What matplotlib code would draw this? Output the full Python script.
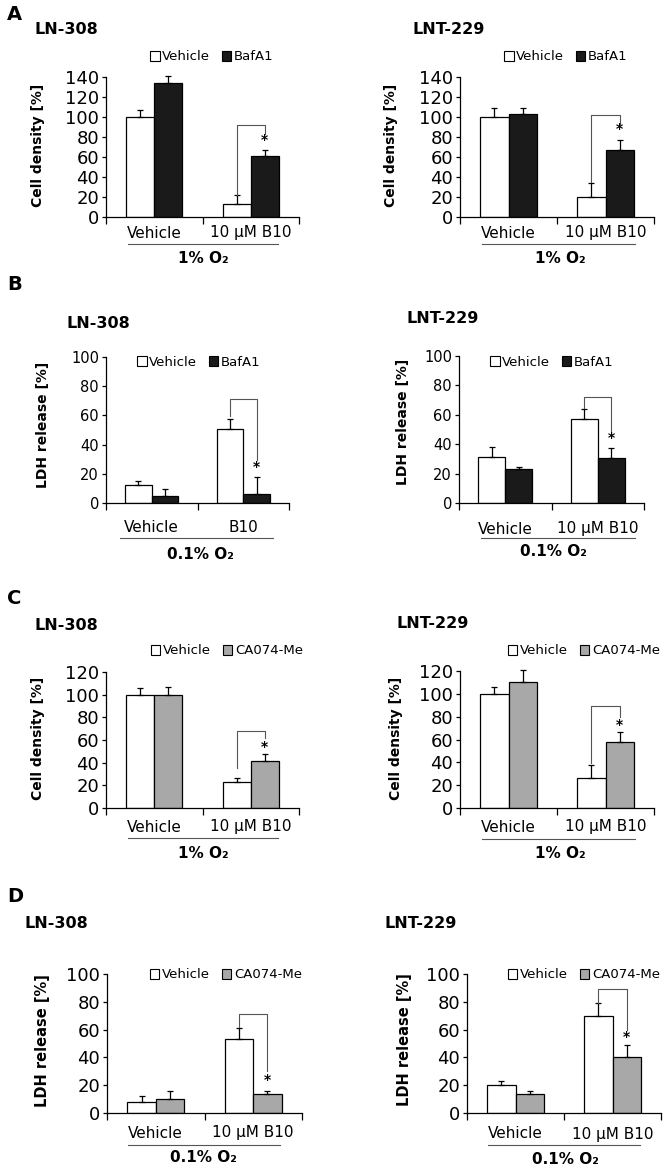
import matplotlib
matplotlib.use("Agg")
import matplotlib.pyplot as plt
from matplotlib.patches import Patch
from matplotlib.lines import Line2D
import numpy as np

plt.rcParams['font.family'] = ['DejaVu Sans']

W, H = 666, 1171

# ---------------- data ----------------
groups_full = ["Vehicle", "10 µM B10"]
groups_short = ["Vehicle", "B10"]

# A: cell density, 1% O2, Vehicle vs BafA1
A308_vehicle = [100, 12.7]
A308_vehicle_err = [7, 9]
A308_baf = [134, 60.7]
A308_baf_err = [7.5, 6]
A229_vehicle = [100, 20]
A229_vehicle_err = [9, 14]
A229_baf = [103, 66.7]
A229_baf_err = [6, 10]

# B: LDH release, 0.1% O2, Vehicle vs BafA1
B308_vehicle = [12, 50.5]
B308_vehicle_err = [2.8, 6.8]
B308_baf = [4.5, 6]
B308_baf_err = [5, 11.7]
B229_vehicle = [31.6, 56.9]
B229_vehicle_err = [6.8, 6.8]
B229_baf = [23, 30.7]
B229_baf_err = [1.8, 6.5]

# C: cell density, 1% O2, Vehicle vs CA074-Me
C308_vehicle = [100, 22.6]
C308_vehicle_err = [6, 4]
C308_ca = [100, 41.8]
C308_ca_err = [6.8, 5.8]
C229_vehicle = [99.8, 26.3]
C229_vehicle_err = [6.4, 11.2]
C229_ca = [110.6, 58]
C229_ca_err = [10.3, 8.7]

# D: LDH release, 0.1% O2, Vehicle vs CA074-Me
D308_vehicle = [7.9, 53.3]
D308_vehicle_err = [4.1, 8.2]
D308_ca = [9.8, 13.9]
D308_ca_err = [5.8, 2.1]
D229_vehicle = [19.9, 69.5]
D229_vehicle_err = [2.9, 9.5]
D229_ca = [13.7, 40]
D229_ca_err = [2.1, 8.7]

# significance brackets: (left leg bottom, top, right leg bottom, star y)
brackets = {
    "A308": (22, 92, 83, 77),
    "A229": (35, 101.7, 93, 88),
    "B308": (59.5, 71.1, 29.5, 25),
    "B229": (64.3, 71.8, 48.5, 44),
    "C308": (35.3, 67.6, 61.8, 54),
    "C229": (39, 89, 80, 73),
    "D308": (62.2, 71.3, 29.9, 24),
    "D229": (79, 89, 60, 55),
}

BLACK = '#1a1a1a'
GRAY = '#a8a8a8'

panels = [
    dict(key="A308", box=(106, 299, 77, 217), ymax=140, ystep=20, title=("LN-308", 35, 30),
         v=A308_vehicle, ve=A308_vehicle_err, t=A308_baf, te=A308_baf_err, tname="BafA1", tcol=BLACK,
         leg=(212, 57), ylab=("Cell density [%]", 38, 145), groups=groups_full, gy=233,
         uline=(128, 278, 244), cond=("1% O₂", 203, 258), tfs=13, ylfs=10),
    dict(key="A229", box=(460, 654, 77, 217), ymax=140, ystep=20, title=("LNT-229", 412, 30),
         v=A229_vehicle, ve=A229_vehicle_err, t=A229_baf, te=A229_baf_err, tname="BafA1", tcol=BLACK,
         leg=(566, 57), ylab=("Cell density [%]", 391, 145), groups=groups_full, gy=233,
         uline=(482, 635, 244), cond=("1% O₂", 560, 258), tfs=13, ylfs=10),
    dict(key="B308", box=(106, 289, 357, 503), ymax=100, ystep=20, title=("LN-308", 67, 323),
         v=B308_vehicle, ve=B308_vehicle_err, t=B308_baf, te=B308_baf_err, tname="BafA1", tcol=BLACK,
         leg=(199, 362), ylab=("LDH release [%]", 43, 425), groups=groups_short, gy=528,
         uline=(120, 273, 538), cond=("0.1% O₂", 200, 555), tfs=10.5, ylfs=10),
    dict(key="B229", box=(459, 644, 356, 503), ymax=100, ystep=20, title=("LNT-229", 406, 319),
         v=B229_vehicle, ve=B229_vehicle_err, t=B229_baf, te=B229_baf_err, tname="BafA1", tcol=BLACK,
         leg=(552, 362), ylab=("LDH release [%]", 403, 422), groups=groups_full, gy=529,
         uline=(481, 635, 538), cond=("0.1% O₂", 553, 552), tfs=10.5, ylfs=10),
    dict(key="C308", box=(106, 299, 672, 808), ymax=120, ystep=20, title=("LN-308", 35, 625),
         v=C308_vehicle, ve=C308_vehicle_err, t=C308_ca, te=C308_ca_err, tname="CA074-Me", tcol=GRAY,
         leg=(227, 651), ylab=("Cell density [%]", 38, 738), groups=groups_full, gy=827,
         uline=(128, 278, 838), cond=("1% O₂", 203, 853), tfs=13, ylfs=10),
    dict(key="C229", box=(460, 654, 671, 808), ymax=120, ystep=20, title=("LNT-229", 396, 624),
         v=C229_vehicle, ve=C229_vehicle_err, t=C229_ca, te=C229_ca_err, tname="CA074-Me", tcol=GRAY,
         leg=(584, 651), ylab=("Cell density [%]", 396, 738), groups=groups_full, gy=827,
         uline=(482, 635, 839), cond=("1% O₂", 560, 854), tfs=13, ylfs=10),
    dict(key="D308", box=(107, 302, 974, 1113), ymax=100, ystep=20, title=("LN-308", 25, 923),
         v=D308_vehicle, ve=D308_vehicle_err, t=D308_ca, te=D308_ca_err, tname="CA074-Me", tcol=GRAY,
         leg=(226, 975), ylab=("LDH release [%]", 43, 1041), groups=groups_full, gy=1133,
         uline=(128, 280, 1145), cond=("0.1% O₂", 203, 1158), tfs=13, ylfs=10.5),
    dict(key="D229", box=(467, 661, 974, 1113), ymax=100, ystep=20, title=("LNT-229", 385, 923),
         v=D229_vehicle, ve=D229_vehicle_err, t=D229_ca, te=D229_ca_err, tname="CA074-Me", tcol=GRAY,
         leg=(584, 975), ylab=("LDH release [%]", 405, 1040), groups=groups_full, gy=1134,
         uline=(488, 640, 1145), cond=("0.1% O₂", 565, 1159), tfs=13, ylfs=10.5),
]

panel_letters = [("A", 7, 15), ("B", 7, 285), ("C", 7, 599), ("D", 7, 897)]

fig = plt.figure(figsize=(W / 100, H / 100), dpi=100)


def fx(px):
    return px / W


def fy(py):
    return 1 - py / H


bw = 0.29
for p in panels:
    l, r, t, b = p["box"]
    ax = fig.add_axes([fx(l), fy(b), (r - l) / W, (b - t) / H])
    x = np.arange(len(p["groups"]))
    zeros = np.zeros(len(x))
    ekw = dict(elinewidth=0.9, capthick=0.9, ecolor='black')
    c1 = ax.bar(x - bw / 2, p["v"], bw, color='white', edgecolor='black', linewidth=0.9,
                yerr=[zeros, p["ve"]], capsize=2.5, error_kw=ekw, zorder=2)
    c2 = ax.bar(x + bw / 2, p["t"], bw, color=p["tcol"], edgecolor='black', linewidth=0.9,
                yerr=[zeros, p["te"]], capsize=2.5, error_kw=ekw, zorder=2)
    for c in (c1, c2):
        for art in c.errorbar.lines[1] + c.errorbar.lines[2]:
            art.set_clip_on(False)
    ax.set_xlim(-0.5, 1.5)
    ax.set_ylim(0, p["ymax"])
    ax.set_yticks(np.arange(0, p["ymax"] + 1, p["ystep"]))
    ax.tick_params(axis='y', length=3, width=0.9, pad=2, labelsize=p["tfs"])
    ax.set_xticks([-0.5, 0.5, 1.5])
    ax.set_xticklabels([])
    ax.tick_params(axis='x', length=5, width=0.9, direction='out')
    for s in ("top", "right"):
        ax.spines[s].set_visible(False)
    for s in ("left", "bottom"):
        ax.spines[s].set_linewidth(0.9)

    # group labels
    for xi, g in zip(x, p["groups"]):
        ax.annotate(g, xy=(xi, 0), xycoords=('data', 'axes fraction'),
                    xytext=(0, -(p["gy"] - b) * 0.72), textcoords='offset points',
                    ha='center', va='center', fontsize=11)

    # bracket
    lb, top, rb, sy = brackets[p["key"]]
    xl, xr = 1 - bw / 2, 1 + bw / 2
    ax.plot([xl, xl, xr, xr], [lb, top, top, rb], color='#555555', lw=0.8, clip_on=False, zorder=3)
    ax.text(xr, sy, "*", ha='center', va='center', fontsize=10, fontweight='bold')

    # legend
    handles = [Patch(facecolor='white', edgecolor='black', linewidth=0.8, label="Vehicle"),
               Patch(facecolor=p["tcol"], edgecolor='black', linewidth=0.8, label=p["tname"])]
    fig.legend(handles=handles, loc='center', bbox_to_anchor=(fx(p["leg"][0]), fy(p["leg"][1])),
               ncol=2, frameon=False, fontsize=9.5, handlelength=0.7, handleheight=0.7,
               handletextpad=0.2, columnspacing=0.9, borderpad=0, borderaxespad=0)

    # title
    tt, tx, ty = p["title"]
    fig.text(fx(tx), fy(ty), tt, ha='left', va='center', fontsize=11.5, fontweight='bold')

    # y label
    yl, yx, yy = p["ylab"]
    fig.text(fx(yx), fy(yy), yl, ha='center', va='center', rotation=90,
             fontsize=p["ylfs"], fontweight='bold')

    # underline + condition
    ux0, ux1, uy = p["uline"]
    fig.add_artist(Line2D([fx(ux0), fx(ux1)], [fy(uy), fy(uy)], color='#555555', lw=0.8))
    ct, cx, cy = p["cond"]
    fig.text(fx(cx), fy(cy), ct, ha='center', va='center', fontsize=11, fontweight='bold')

for letter, lx, ly in panel_letters:
    fig.text(fx(lx), fy(ly), letter, ha='left', va='center', fontsize=14, fontweight='bold')

fig.savefig("out.png", dpi=100)
